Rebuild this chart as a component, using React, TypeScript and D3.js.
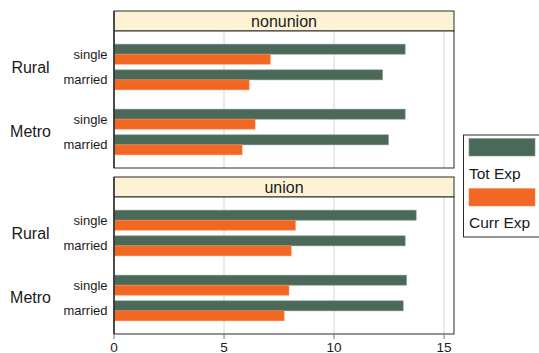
import React from "react";
import * as d3 from "d3";

const panels = ["nonunion", "union"];
const regions = ["Rural", "Metro"];
const statuses = ["single", "married"];
const seriesNames = ["Tot Exp", "Curr Exp"];
const seriesColors = ["#4a6959", "#f26722"];
// values ordered: Rural single, Rural married, Metro single, Metro married
const totExp = {
  nonunion: [13.23, 12.2, 13.23, 12.47],
  union: [13.73, 13.23, 13.29, 13.14],
};
const currExp = {
  nonunion: [7.1, 6.14, 6.41, 5.82],
  union: [8.24, 8.05, 7.95, 7.73],
};
const xTicks = [0, 5, 10, 15];

const W = 539;
const H = 353;
const left = 114;
const right = 454;
const panelLayout = [
  { stripTop: 11, top: 31, bottom: 168 },
  { stripTop: 177, top: 197, bottom: 334 },
];
const font = "Liberation Sans, Arial, Helvetica, sans-serif";

export default function App() {
  const x = d3.scaleLinear().domain([0, 15.45]).range([left, right]);
  return (
    <svg width={W} height={H} style={{ position: "absolute", left: 0, top: 0 }} fontFamily={font}>
      <rect width={W} height={H} fill="#ffffff" />
      {panels.map((p, pi) => {
        const L = panelLayout[pi];
        const ph = L.bottom - L.top;
        const outer = d3.scaleBand().domain(regions).range([0, ph]).paddingInner(0).paddingOuter(0.054);
        const inner = d3.scaleBand().domain(statuses).range([0, outer.bandwidth()]).paddingInner(0).paddingOuter(0.265);
        const bars = d3.scaleBand().domain(seriesNames).range([0, inner.bandwidth()]).paddingInner(0).paddingOuter((inner.bandwidth() - 20) / 20);
        const tot = totExp[p as keyof typeof totExp];
        const cur = currExp[p as keyof typeof currExp];
        return (
          <g key={p}>
            <rect x={left} y={L.stripTop} width={right - left} height={L.top - L.stripTop} fill="#fdf3d4" stroke="#2b2b2b" strokeWidth={1} />
            <text x={(left + right) / 2} y={(L.stripTop + L.top) / 2 + 0.5} textAnchor="middle" dominantBaseline="central" fontSize={16} fill="#1a1a1a">
              {p}
            </text>
            <rect x={left} y={L.top} width={right - left} height={ph} fill="#ffffff" />
            {xTicks.slice(1).map((t) => (
              <line key={t} x1={x(t)} x2={x(t)} y1={L.top} y2={L.bottom} stroke="#e3e3e3" strokeWidth={1.5} />
            ))}
            {regions.map((r, ri) => (
              <g key={r}>
                <text x={30.5} y={L.top + (outer(r) as number) + outer.bandwidth() / 2} textAnchor="middle" dominantBaseline="central" fontSize={16} fill="#1a1a1a">
                  {r}
                </text>
                {statuses.map((s, si) => {
                  const idx = ri * 2 + si;
                  const rowY = L.top + (outer(r) as number) + (inner(s) as number);
                  const vals = [tot[idx], cur[idx]];
                  return (
                    <g key={s}>
                      <text x={107.5} y={rowY + inner.bandwidth() / 2} textAnchor="end" dominantBaseline="central" fontSize={13} fill="#1a1a1a">
                        {s}
                      </text>
                      {seriesNames.map((sn, k) => (
                        <rect
                          key={sn}
                          x={x(0)}
                          y={rowY + (bars(sn) as number)}
                          width={x(vals[k]) - x(0)}
                          height={bars.bandwidth()}
                          fill={seriesColors[k]}
                          stroke={k === 0 ? "#7d9487" : "#f58b55"}
                          strokeWidth={0.6}
                        />
                      ))}
                    </g>
                  );
                })}
              </g>
            ))}
            <rect x={left} y={L.top} width={right - left} height={ph} fill="none" stroke="#2b2b2b" strokeWidth={1} />
            <line x1={left} x2={left} y1={L.stripTop} y2={L.bottom} stroke="#333" strokeWidth={1.5} />
          </g>
        );
      })}
      {xTicks.map((t) => (
        <g key={t}>
          <line x1={x(t)} x2={x(t)} y1={334} y2={339} stroke="#777" strokeWidth={1} />
          <text x={x(t)} y={347} textAnchor="middle" dominantBaseline="central" fontSize={13.5} fill="#1a1a1a">
            {t}
          </text>
        </g>
      ))}
      <g>
        <rect x={463.5} y={135} width={80} height={102} fill="#ffffff" stroke="#2b2b2b" strokeWidth={1} />
        {seriesNames.map((sn, k) => (
          <g key={sn}>
            <rect x={469} y={138.5 + k * 50} width={66} height={17.5} fill={seriesColors[k]} stroke={k === 0 ? "#7d9487" : "#f58b55"} strokeWidth={0.6} />
            <text x={469} y={178.5 + k * 49} fontSize={15.5} fill="#1a1a1a">
              {sn}
            </text>
          </g>
        ))}
      </g>
    </svg>
  );
}
